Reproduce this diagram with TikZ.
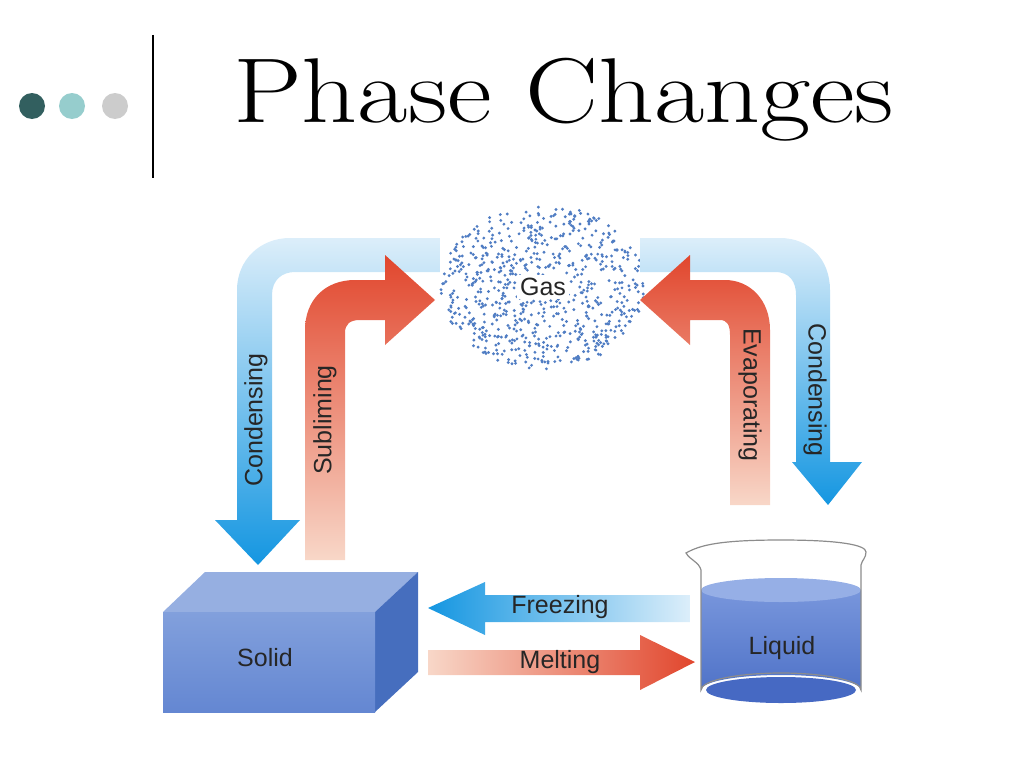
\documentclass[tikz,border=0pt]{standalone}
\usepackage{fontspec}
\newfontfamily\lab{Liberation Sans}
\definecolor{dteal}{RGB}{50,95,95}
\definecolor{lteal}{RGB}{150,205,205}
\definecolor{dotc}{RGB}{80,125,195}
\definecolor{bdark}{RGB}{20,150,225}
\definecolor{blite}{RGB}{220,238,250}
\definecolor{rdark}{RGB}{225,70,45}
\definecolor{rlite}{RGB}{248,215,200}
\definecolor{stop}{RGB}{150,175,225}
\definecolor{sside}{RGB}{70,110,190}
\definecolor{sf1}{RGB}{130,160,220}
\definecolor{sf2}{RGB}{100,135,210}
\definecolor{lq1}{RGB}{120,150,220}
\definecolor{lq2}{RGB}{80,115,200}
\definecolor{lqt}{RGB}{150,175,230}
\definecolor{lqb}{RGB}{70,105,195}
\begin{document}
\begin{tikzpicture}[x=1pt,y=-1pt,
  lbl/.style={font=\lab\fontsize{25}{25}\selectfont,text=black!85},
  bluesh/.style={top color=blite, bottom color=bdark},
  redsh/.style={top color=rdark, bottom color=rlite}]
\useasboundingbox (0,0) rectangle (1024,768);
% header
\fill[dteal] (32,106) circle (13);
\fill[lteal] (72,106) circle (13);
\fill[black!20] (115,106) circle (13);
\draw[line width=2.5pt] (153,35) -- (153,178);
\node[anchor=base west,font=\fontsize{92}{92}\selectfont,inner sep=0,xscale=1.19] (title) at (233,122) {Phase Changes};
% gas cloud
\pgfmathsetseed{7}
\foreach \i in {1,...,750}{
  \pgfmathsetmacro\aa{rnd*360}\pgfmathsetmacro\rr{sqrt(rnd)}
  \fill[dotc] ({543+102*\rr*cos(\aa)},{287+82*\rr*sin(\aa)}) circle (1.6);
}
\node[lbl,fill=white,inner sep=3pt] (gas) at (543,287) {Gas};
% left condensing
\shade[bluesh] (440,238) -- (290,238) .. controls (260,238) and (237,260) .. (237,290) -- (237,520) -- (215,520) -- (258,565) -- (300,520) -- (272,520) -- (272,295) .. controls (272,280) and (282,272) .. (295,272) -- (440,272) -- cycle;
\node[lbl,rotate=90] (c1) at (256,420) {Condensing};
% subliming
\shade[redsh] (345,560) -- (345,333) .. controls (345,324) and (350,320) .. (360,320) -- (385,320) -- (385,345) -- (435,300) -- (385,255) -- (385,280) -- (355,280) .. controls (325,280) and (305,300) .. (305,330) -- (305,560) -- cycle;
\node[lbl,rotate=90] (sub) at (325,420) {Subliming};
% right condensing
\shade[bluesh] (640,238) -- (780,238) .. controls (810,238) and (830,260) .. (830,290) -- (830,462) -- (862,462) -- (828,505) -- (792,462) -- (796,462) -- (796,295) .. controls (796,282) and (790,272) .. (775,272) -- (640,272) -- cycle;
\node[lbl,rotate=-90] (c2) at (815,390) {Condensing};
% evaporating
\shade[redsh] (770,505) -- (770,330) .. controls (770,300) and (750,280) .. (725,280) -- (690,280) -- (690,255) -- (640,300) -- (690,345) -- (690,320) -- (720,320) .. controls (727,320) and (730,325) .. (730,335) -- (730,505) -- cycle;
\node[lbl,rotate=-90] (evap) at (750,395) {Evaporating};
% freezing / melting
\shade[left color=bdark, right color=blite] (690,595) -- (485,595) -- (485,582) -- (428,608) -- (485,635) -- (485,622) -- (690,622) -- cycle;
\node[lbl] (frz) at (560,607) {Freezing};
\shade[left color=rlite, right color=rdark] (428,650) -- (640,650) -- (640,635) -- (695,662) -- (640,690) -- (640,675) -- (428,675) -- cycle;
\node[lbl] (melt) at (560,662) {Melting};
% solid
\fill[stop] (163,612) -- (205,572) -- (418,572) -- (375,612) -- cycle;
\fill[sside] (375,612) -- (418,572) -- (418,672) -- (375,712) -- cycle;
\shade[top color=sf1, bottom color=sf2] (163,612) rectangle (375,712);
\node[lbl] (solid) at (265,658) {Solid};
% beaker
\shade[top color=lq1, bottom color=lq2] (701,590) -- (701,690) arc[start angle=180,end angle=360,x radius=80,y radius=15] -- (861,590) -- cycle;
\fill[lqt] (781,590) ellipse (80 and 12);
\fill[lqb] (781,690) ellipse (75 and 13);
\draw[black!45,line width=1.2pt] (686,553) .. controls (700,545) and (720,540) .. (781,540) .. controls (840,540) and (866,545) .. (866,552) .. controls (866,558) and (862,560) .. (861,565) -- (861,690) arc[start angle=0,end angle=-180,x radius=80,y radius=17] -- (701,570) .. controls (699,562) and (690,560) .. (686,553) -- cycle;
\node[lbl] (liq) at (782,648) {Liquid};
\end{tikzpicture}
\end{document}
